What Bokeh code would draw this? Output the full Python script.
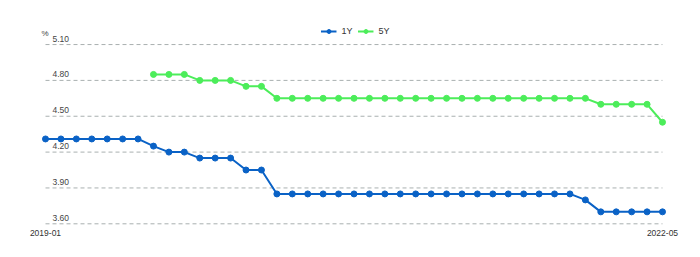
import pandas as pd
from bokeh.plotting import figure
from bokeh.models import ColumnDataSource, Range1d, FixedTicker, Legend, LegendItem
from bokeh.core.properties import value
from bokeh.embed import file_html
from bokeh.resources import INLINE

nan = float("nan")

months = [str(m) for m in pd.period_range("2019-01", "2022-05", freq="M")]

lpr_1y = [
    4.31, 4.31, 4.31, 4.31, 4.31, 4.31, 4.31, 4.25, 4.20, 4.20, 4.15, 4.15,
    4.15, 4.05, 4.05, 3.85, 3.85, 3.85, 3.85, 3.85, 3.85, 3.85, 3.85, 3.85,
    3.85, 3.85, 3.85, 3.85, 3.85, 3.85, 3.85, 3.85, 3.85, 3.85, 3.85, 3.80,
    3.70, 3.70, 3.70, 3.70, 3.70,
]
lpr_5y = [
    nan, nan, nan, nan, nan, nan, nan, 4.85, 4.85, 4.85, 4.80, 4.80,
    4.80, 4.75, 4.75, 4.65, 4.65, 4.65, 4.65, 4.65, 4.65, 4.65, 4.65, 4.65,
    4.65, 4.65, 4.65, 4.65, 4.65, 4.65, 4.65, 4.65, 4.65, 4.65, 4.65, 4.65,
    4.60, 4.60, 4.60, 4.60, 4.45,
]
y_ticks = [3.60, 3.90, 4.20, 4.50, 4.80, 5.10]
y_tick_labels = ["3.60", "3.90", "4.20", "4.50", "4.80", "5.10"]
x_tick_labels = {0: months[0], len(months) - 1: months[-1]}
series_names = ["1Y", "5Y"]
colors = ["#0a62c6", "#4ced5a"]

idx = list(range(len(months)))
src = ColumnDataSource(dict(x=idx, m=months, y1=lpr_1y, y5=lpr_5y))

FONT = "Liberation Sans"

p = figure(width=700, height=257, output_backend="svg", toolbar_location=None,
           min_border_left=30, min_border_right=20, min_border_top=0,
           min_border_bottom=31,
           x_range=Range1d(-0.9725, 41.167), y_range=Range1d(3.5774, 5.4686))
p.outline_line_color = None
p.background_fill_color = "white"
p.border_fill_color = "white"
p.xgrid.visible = False
p.ygrid.visible = False
p.yaxis.visible = False

ax = p.xaxis[0]
ax.ticker = FixedTicker(ticks=list(x_tick_labels.keys()))
ax.major_label_overrides = x_tick_labels
ax.axis_line_color = None
ax.major_tick_line_color = None
ax.minor_tick_line_color = None
ax.major_tick_out = 0
ax.major_tick_in = 0
ax.major_label_standoff = 3
ax.major_label_text_font = FONT
ax.major_label_text_font_size = "8.5px"
ax.major_label_text_color = "#333333"

# gridlines
gsrc = ColumnDataSource(dict(x0=[0] * len(y_ticks), x1=[len(months) - 1] * len(y_ticks),
                             y=y_ticks, t=y_tick_labels))
p.segment(x0="x0", x1="x1", y0="y", y1="y", source=gsrc, line_color="#a9b0b0",
          line_width=1, line_dash="4 3")
p.text(x="x0", y="y", text="t", source=gsrc, x_offset=7, y_offset=-3,
       text_align="left", text_baseline="bottom", text_font=value(FONT),
       text_font_size="8.5px", text_color="#444444")
p.text(x=[0], y=[y_ticks[-1]], text=["%"], x_offset=3, y_offset=-7,
       text_align="right", text_baseline="bottom", text_font=value(FONT),
       text_font_size="8px", text_color="#444444")

l1 = p.line("x", "y1", source=src, line_color=colors[0], line_width=2)
c1 = p.scatter("x", "y1", source=src, size=6, fill_color=colors[0], line_color=colors[0])
l5 = p.line("x", "y5", source=src, line_color=colors[1], line_width=2)
c5 = p.scatter("x", "y5", source=src, size=6, fill_color=colors[1], line_color=colors[1])

legend = Legend(items=[LegendItem(label=series_names[0], renderers=[l1, c1]),
                       LegendItem(label=series_names[1], renderers=[l5, c5])],
                orientation="horizontal", location="top_center",
                glyph_width=16, glyph_height=10, label_standoff=5, spacing=5,
                label_width=10, label_height=12,
                label_text_font=FONT, label_text_font_size="9px",
                label_text_color="#333333", border_line_alpha=0,
                background_fill_alpha=0, margin=15, padding=10)
p.add_layout(legend, "center")

open("out.html", "w").write(file_html(p, INLINE))
